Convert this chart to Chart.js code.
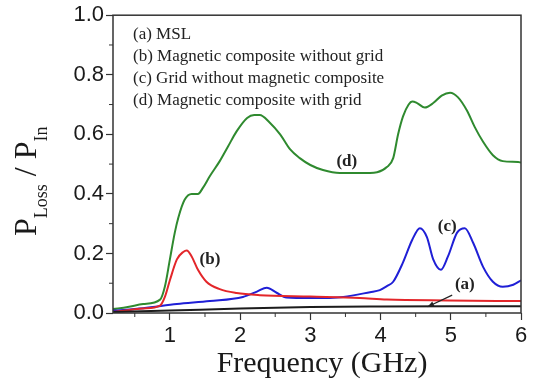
<!DOCTYPE html>
<html>
<head>
<meta charset="utf-8">
<script src="https://cdn.jsdelivr.net/npm/chart.js@4.4.1/dist/chart.umd.min.js"></script>
<style>
    body { margin: 0; background: #fff; }
    canvas { display: block; }
</style>
</head>
<body>
<canvas id="chart" width="536" height="383"></canvas>
<script>
// (a) MSL
let freqA = [0.19, 1.0, 2.0, 3.0, 4.0, 5.0, 6.0];
let lossA = [0.003, 0.008, 0.015, 0.02, 0.022, 0.023, 0.023];

// (b) Magnetic composite without grid
let freqB = [0.19, 0.62, 0.86, 0.93, 1.0, 1.1, 1.19, 1.24, 1.31, 1.4, 1.52, 1.71, 1.95, 2.28, 3.0, 3.7, 4.09, 4.95, 6.0];
let lossB = [0.003, 0.015, 0.025, 0.055, 0.11, 0.18, 0.205, 0.21, 0.19, 0.145, 0.105, 0.08, 0.067, 0.06, 0.055, 0.05, 0.045, 0.042, 0.04];

// (c) Grid without magnetic composite
let freqC = [0.19, 0.62, 1.1, 1.57, 2.04, 2.24, 2.38, 2.52, 2.66, 3.0, 3.47, 3.85, 3.99, 4.09, 4.18, 4.32, 4.45, 4.56, 4.66, 4.75, 4.86, 4.96, 5.09, 5.2, 5.32, 5.46, 5.6, 5.74, 5.89, 6.0];
let lossC = [0.008, 0.016, 0.03, 0.04, 0.054, 0.072, 0.085, 0.068, 0.052, 0.05, 0.054, 0.07, 0.077, 0.09, 0.105, 0.17, 0.245, 0.285, 0.255, 0.18, 0.145, 0.19, 0.27, 0.285, 0.235, 0.155, 0.105, 0.088, 0.095, 0.11];

// (d) Magnetic composite with grid
let freqD = [0.19, 0.4, 0.62, 0.86, 0.93, 1.0, 1.07, 1.12, 1.21, 1.31, 1.4, 1.47, 1.57, 1.71, 1.83, 1.95, 2.1, 2.2, 2.28, 2.42, 2.57, 2.71, 2.85, 3.0, 3.18, 3.42, 3.71, 3.95, 4.09, 4.18, 4.25, 4.32, 4.4, 4.45, 4.52, 4.63, 4.75, 4.87, 4.99, 5.1, 5.23, 5.34, 5.46, 5.6, 5.74, 5.96, 6.0];
let lossD = [0.013, 0.02, 0.03, 0.045, 0.09, 0.18, 0.27, 0.32, 0.38, 0.40, 0.40, 0.42, 0.46, 0.51, 0.56, 0.61, 0.655, 0.665, 0.665, 0.64, 0.60, 0.55, 0.52, 0.497, 0.48, 0.47, 0.47, 0.473, 0.49, 0.52, 0.60, 0.66, 0.70, 0.71, 0.705, 0.69, 0.705, 0.73, 0.74, 0.725, 0.68, 0.625, 0.575, 0.53, 0.51, 0.507, 0.505];

let legendLines = ["(a) MSL", "(b) Magnetic composite without grid", "(c) Grid without magnetic composite", "(d) Magnetic composite with grid"];
let xTickValues = [1, 2, 3, 4, 5, 6];
let xMinorValues = [0.5, 1.5, 2.5, 3.5, 4.5, 5.5];
let yMinorValues = [0.1, 0.3, 0.5, 0.7, 0.9];

// curve labels: [text, x, y]
let curveLabels = [["(a)", 5.2, 0.094], ["(b)", 1.57, 0.178], ["(c)", 4.95, 0.29], ["(d)", 3.52, 0.507]];
let arrowA = [[5.02, 0.06], [4.67, 0.021]];

function pairs(xs, ys) {
    return xs.map((x, i) => ({ x: x, y: ys[i] }));
}

function line(label, xs, ys, color) {
    return {
        label: label,
        data: pairs(xs, ys),
        borderColor: color,
        borderWidth: 2,
        pointRadius: 0,
        fill: false,
        cubicInterpolationMode: "monotone",
    };
}

const extras = {
    id: "extras",
    afterDraw(chart) {
        let ctx = chart.ctx;
        let area = chart.chartArea;
        let xs = chart.scales.x, ys = chart.scales.y;
        ctx.save();

        // frame
        ctx.strokeStyle = "#333";
        ctx.lineWidth = 1.5;
        ctx.strokeRect(area.left, area.top, area.right - area.left, area.bottom - area.top);

        // minor ticks
        ctx.lineWidth = 1;
        ctx.beginPath();
        xMinorValues.forEach(v => {
            let px = xs.getPixelForValue(v);
            ctx.moveTo(px, area.bottom);
            ctx.lineTo(px, area.bottom + 4);
        });
        yMinorValues.forEach(v => {
            let py = ys.getPixelForValue(v);
            ctx.moveTo(area.left, py);
            ctx.lineTo(area.left - 4, py);
        });
        ctx.stroke();

        // legend text
        ctx.fillStyle = "#222";
        ctx.font = "17px 'Liberation Serif', serif";
        ctx.textBaseline = "alphabetic";
        ctx.textAlign = "left";
        legendLines.forEach((t, i) => {
            ctx.fillText(t, area.left + 20, 39 + i * 22);
        });

        // curve labels
        ctx.font = "bold 17px 'Liberation Serif', serif";
        ctx.textAlign = "center";
        ctx.textBaseline = "middle";
        curveLabels.forEach(l => {
            ctx.fillText(l[0], xs.getPixelForValue(l[1]), ys.getPixelForValue(l[2]));
        });

        // arrow for (a)
        let ax0 = xs.getPixelForValue(arrowA[0][0]), ay0 = ys.getPixelForValue(arrowA[0][1]);
        let ax1 = xs.getPixelForValue(arrowA[1][0]), ay1 = ys.getPixelForValue(arrowA[1][1]);
        ctx.strokeStyle = "#222";
        ctx.lineWidth = 1.2;
        ctx.beginPath();
        ctx.moveTo(ax0, ay0);
        ctx.lineTo(ax1, ay1);
        ctx.stroke();
        let ang = Math.atan2(ay1 - ay0, ax1 - ax0);
        ctx.beginPath();
        ctx.moveTo(ax1, ay1);
        ctx.lineTo(ax1 - 7 * Math.cos(ang - 0.4), ay1 - 7 * Math.sin(ang - 0.4));
        ctx.lineTo(ax1 - 7 * Math.cos(ang + 0.4), ay1 - 7 * Math.sin(ang + 0.4));
        ctx.closePath();
        ctx.fill();

        // x title
        ctx.fillStyle = "#1a1a1a";
        ctx.font = "30px 'Liberation Serif', serif";
        ctx.textAlign = "center";
        ctx.textBaseline = "alphabetic";
        ctx.fillText("Frequency (GHz)", (area.left + area.right) / 2 + 5, 372);

        // y title with subscripts
        ctx.translate(36, 236);
        ctx.rotate(-Math.PI / 2);
        ctx.textAlign = "left";
        let big = "32px 'Liberation Serif', serif";
        let small = "18px 'Liberation Serif', serif";
        let parts = [["P", big, 0], ["Loss", small, 11], [" / P", big, 0], ["In", small, 11]];
        let cx = 0;
        parts.forEach(p => {
            ctx.font = p[1];
            ctx.fillText(p[0], cx, p[2]);
            cx += ctx.measureText(p[0]).width;
        });

        ctx.restore();
    }
};

let chart = new Chart(document.getElementById("chart"), {
    type: "line",
    data: {
        datasets: [
            line("(a) MSL", freqA, lossA, "#1c1c1c"),
            line("(b) Magnetic composite without grid", freqB, lossB, "#e3262a"),
            line("(c) Grid without magnetic composite", freqC, lossC, "#1f1fd6"),
            line("(d) Magnetic composite with grid", freqD, lossD, "#2f8a2f"),
        ]
    },
    options: {
        responsive: false,
        animation: false,
        layout: { padding: { top: 15, right: 15, left: 0, bottom: 0 } },
        plugins: {
            legend: { display: false },
            tooltip: { enabled: false },
        },
        scales: {
            x: {
                type: "linear",
                min: 0.19,
                max: 6,
                afterBuildTicks: scale => {
                    scale.ticks = xTickValues.map(v => ({ value: v }));
                },
                afterFit: scale => { scale.height = 70; },
                border: { display: false },
                grid: { drawOnChartArea: false, drawTicks: true, tickLength: 7, tickColor: "#333", tickWidth: 1.2 },
                ticks: {
                    padding: 3,
                    color: "#1a1a1a",
                    font: { family: "'Liberation Sans', Arial", size: 22 },
                    callback: v => String(v),
                    maxRotation: 0,
                },
            },
            y: {
                min: 0,
                max: 1,
                afterFit: scale => { scale.width = 113; },
                border: { display: false },
                grid: { drawOnChartArea: false, drawTicks: true, tickLength: 7, tickColor: "#333", tickWidth: 1.2 },
                ticks: {
                    stepSize: 0.2,
                    padding: 2,
                    color: "#1a1a1a",
                    font: { family: "'Liberation Sans', Arial", size: 22 },
                    callback: v => Number(v).toFixed(1),
                },
            },
        },
    },
    plugins: [extras],
});
</script>
</body>
</html>
